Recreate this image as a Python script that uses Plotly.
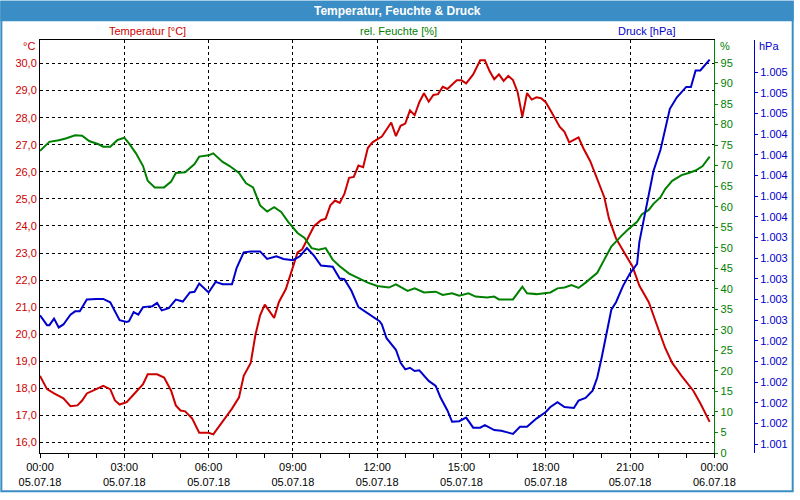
import pandas as pd
import plotly.graph_objects as go

day = pd.Timestamp("2018-07-05")

# minutes after midnight + readings, picked off the chart
temp_min = [0, 15, 30, 50, 65, 80, 90, 100, 120, 135, 150, 160, 170, 185, 200, 220, 230, 250,
            265, 280, 290, 300, 310, 325, 340, 360, 370, 390, 410, 425, 435, 450, 460, 470,
            480, 500, 510, 525, 540, 550, 560, 570, 585, 600, 610, 620, 630, 640, 650, 660,
            670, 680, 690, 700, 710, 720, 730, 750, 760, 770, 780, 790, 800, 810, 820, 830,
            840, 850, 860, 870, 890, 900, 910, 925, 940, 950, 960, 970, 980, 990, 1000, 1010,
            1020, 1030, 1040, 1050, 1060, 1070, 1080, 1090, 1100, 1110, 1120, 1130, 1150,
            1160, 1175, 1190, 1205, 1215, 1230, 1250, 1265, 1280, 1300, 1315, 1325, 1335,
            1350, 1370, 1395, 1410, 1430]
temp_c = [18.46, 17.97, 17.81, 17.63, 17.34, 17.37, 17.55, 17.81, 17.97, 18.09, 17.97, 17.55,
          17.40, 17.49, 17.77, 18.15, 18.52, 18.52, 18.40, 17.91, 17.37, 17.18, 17.15, 16.88,
          16.36, 16.36, 16.30, 16.76, 17.25, 17.67, 18.46, 18.94, 19.97, 20.70, 21.09, 20.60,
          21.18, 21.67, 22.51, 23.02, 23.14, 23.48, 23.99, 24.21, 24.27, 24.76, 24.94, 24.85,
          25.18, 25.78, 25.81, 26.23, 26.17, 26.88, 27.09, 27.20, 27.30, 27.82, 27.32, 27.70,
          27.78, 28.27, 28.09, 28.57, 28.90, 28.59, 28.84, 28.87, 29.14, 29.06, 29.38, 29.38,
          29.27, 29.60, 30.12, 30.12, 29.72, 29.42, 29.60, 29.36, 29.54, 29.39, 28.94, 28.03,
          28.91, 28.67, 28.75, 28.72, 28.57, 28.27, 27.97, 27.66, 27.48, 27.09, 27.27, 26.88,
          26.39, 25.72, 25.06, 24.27, 23.54, 22.94, 22.51, 21.79, 21.18, 20.45, 19.97, 19.49,
          18.94, 18.46, 17.91, 17.45, 16.76]

hum_min = [0, 20, 40, 55, 75, 90, 105, 125, 135, 150, 165, 180, 190, 205, 220, 230, 245, 265,
           280, 290, 310, 330, 340, 360, 370, 390, 405, 425, 440, 455, 470, 485, 500, 515, 530,
           550, 565, 580, 595, 610, 625, 640, 660, 675, 700, 720, 745, 760, 785, 800, 820, 845,
           860, 880, 895, 915, 930, 955, 970, 980, 1000, 1010, 1030, 1040, 1060, 1080, 1090,
           1105, 1120, 1135, 1150, 1165, 1190, 1205, 1220, 1240, 1255, 1275, 1285, 1300, 1310,
           1325, 1335, 1350, 1370, 1385, 1400, 1415, 1430]
hum_pct = [73.6, 75.8, 76.2, 76.6, 77.4, 77.3, 76.0, 75.2, 74.6, 74.6, 76.2, 76.8, 75.4, 73.0,
           69.9, 66.3, 64.7, 64.7, 66.1, 68.2, 68.4, 70.4, 72.2, 72.5, 73.0, 70.9, 69.9, 68.2,
           65.7, 64.7, 60.3, 58.8, 59.9, 58.7, 56.3, 53.6, 52.4, 49.9, 49.5, 49.9, 47.1, 45.5,
           43.7, 42.9, 41.5, 40.7, 40.3, 41.1, 39.5, 40.1, 39.1, 39.3, 38.5, 38.9, 38.3, 38.9,
           38.1, 37.9, 38.1, 37.4, 37.5, 37.4, 40.5, 38.9, 38.7, 39.0, 39.1, 40.1, 40.3, 40.9,
           40.2, 41.5, 43.9, 47.1, 50.3, 52.7, 54.4, 56.3, 58.1, 59.2, 60.7, 62.3, 64.3, 66.3,
           67.7, 68.2, 68.8, 69.9, 72.2]

press_min = [0, 15, 20, 30, 40, 50, 65, 75, 85, 100, 120, 135, 150, 160, 170, 185, 190, 200,
             210, 220, 240, 250, 260, 275, 290, 305, 320, 330, 340, 360, 375, 390, 410, 420,
             435, 450, 470, 485, 505, 520, 540, 555, 570, 585, 600, 625, 640, 650, 665, 680,
             695, 710, 725, 730, 740, 760, 770, 780, 790, 800, 810, 830, 845, 855, 870, 880,
             895, 910, 925, 940, 950, 970, 985, 1000, 1010, 1025, 1040, 1060, 1080, 1090, 1105,
             1120, 1140, 1150, 1165, 1180, 1190, 1200, 1210, 1220, 1230, 1245, 1260, 1275,
             1280, 1290, 1300, 1310, 1325, 1335, 1345, 1360, 1380, 1390, 1400, 1410, 1430]
press_hpa = [1002.647, 1002.551, 1002.551, 1002.615, 1002.529, 1002.558, 1002.653, 1002.685,
             1002.685, 1002.799, 1002.805, 1002.805, 1002.773, 1002.678, 1002.599, 1002.583,
             1002.589, 1002.678, 1002.653, 1002.726, 1002.735, 1002.767, 1002.694, 1002.716,
             1002.799, 1002.780, 1002.868, 1002.875, 1002.954, 1002.868, 1002.970, 1002.948,
             1002.948, 1003.106, 1003.256, 1003.265, 1003.265, 1003.192, 1003.218, 1003.192,
             1003.180, 1003.218, 1003.297, 1003.224, 1003.129, 1003.116, 1003.002, 1002.996,
             1002.884, 1002.726, 1002.678, 1002.630, 1002.589, 1002.558, 1002.425, 1002.313,
             1002.187, 1002.123, 1002.139, 1002.107, 1002.114, 1002.012, 1001.964, 1001.854,
             1001.726, 1001.616, 1001.622, 1001.657, 1001.559, 1001.559, 1001.584, 1001.536,
             1001.530, 1001.511, 1001.498, 1001.568, 1001.568, 1001.647, 1001.711, 1001.759,
             1001.806, 1001.759, 1001.749, 1001.821, 1001.847, 1001.917, 1002.044, 1002.250,
             1002.488, 1002.701, 1002.773, 1002.932, 1003.053, 1003.144, 1003.360, 1003.598,
             1003.820, 1004.043, 1004.248, 1004.455, 1004.645, 1004.756, 1004.857, 1004.857,
             1005.016, 1005.016, 1005.121]

temp_ticks = [16, 17, 18, 19, 20, 21, 22, 23, 24, 25, 26, 27, 28, 29, 30]
hum_ticks = [0, 5, 10, 15, 20, 25, 30, 35, 40, 45, 50, 55, 60, 65, 70, 75, 80, 85, 90, 95]
press_ticks = [1001.4, 1001.6, 1001.8, 1002.0, 1002.2, 1002.4, 1002.6, 1002.8, 1003.0, 1003.2,
               1003.4, 1003.6, 1003.8, 1004.0, 1004.2, 1004.4, 1004.6, 1004.8, 1005.0]

RED, GREEN, BLUE = "#cc0000", "#008000", "#0000cc"
FRAME = "#3b8dc5"
FONT = "Liberation Sans"

W, H = 800, 500
L, R, T, B = 40, 38, 40, 40


def ts(mins):
    return [day + pd.Timedelta(minutes=m) for m in mins]


def px(x):  # pixel -> paper x
    return (x - L) / (W - L - R)


def py(y):  # pixel -> paper y
    return (H - B - y) / (H - T - B)


fig = go.Figure()
fig.add_trace(go.Scatter(x=ts(temp_min), y=temp_c, mode="lines",
                         line=dict(color=RED, width=2), yaxis="y"))
fig.add_trace(go.Scatter(x=ts(hum_min), y=hum_pct, mode="lines",
                         line=dict(color=GREEN, width=2), yaxis="y2"))
fig.add_trace(go.Scatter(x=ts(press_min), y=press_hpa, mode="lines",
                         line=dict(color=BLUE, width=2), yaxis="y3"))

grid = dict(showgrid=True, gridcolor="black", gridwidth=1, griddash="3px,3px")

fig.update_layout(
    width=W, height=H,
    margin=dict(l=L, r=R, t=T, b=B),
    paper_bgcolor="white", plot_bgcolor="white",
    showlegend=False,
    separators=",.",
    font=dict(family=FONT, size=11, color="black"),
    xaxis=dict(
        type="date", domain=[0, 680 / (W - L - R)],
        range=[day, day + pd.Timedelta(days=1)],
        dtick=3 * 3600 * 1000, tickformat="%H:%M<br>%d.%m.%y",
        ticks="outside", ticklen=4, tickcolor="black",
        minor=dict(dtick=3600 * 1000, ticks="outside", ticklen=4, tickcolor="black", showgrid=False),
        showline=True, linecolor="black", linewidth=1, mirror=True,
        zeroline=False, tickfont=dict(size=11, color="black"), **grid,
    ),
    yaxis=dict(
        range=[15.61, 30.87], tickmode="array", tickvals=temp_ticks, tickformat=".1f",
        ticks="", showline=True, linecolor="black", linewidth=1, zeroline=False,
        tickfont=dict(size=11, color=RED), **grid,
    ),
    yaxis2=dict(
        overlaying="y", side="right", anchor="x", range=[0, 100.6],
        tickmode="array", tickvals=hum_ticks,
        ticks="outside", ticklen=3, tickcolor=GREEN,
        showline=True, linecolor=GREEN, linewidth=1, showgrid=False, zeroline=False,
        tickfont=dict(size=11, color=GREEN),
    ),
    yaxis3=dict(
        overlaying="y", side="right", anchor="free", position=px(760),
        range=[1001.314, 1005.311], tickmode="array", tickvals=press_ticks, tickformat=",.0f",
        ticks="outside", ticklen=3, tickcolor=BLUE, ticklabeloverflow="allow",
        showline=True, linecolor=BLUE, linewidth=1, showgrid=False, zeroline=False,
        tickfont=dict(size=11, color=BLUE),
    ),
)

# window frame and title bar
fig.add_shape(type="rect", xref="paper", yref="paper", x0=px(0), x1=px(800), y0=py(21), y1=py(0),
              fillcolor=FRAME, line=dict(width=0), layer="above")
fig.add_shape(type="rect", xref="paper", yref="paper", x0=px(1), x1=px(799), y0=py(499), y1=py(1),
              line=dict(color=FRAME, width=2), layer="above")


def note(text, x, y, color, anchor="center", size=11, bold=False):
    if bold:
        text = "<b>" + text + "</b>"
    fig.add_annotation(text=text, xref="paper", yref="paper", x=px(x), y=py(y),
                       xanchor=anchor, yanchor="middle", showarrow=False,
                       font=dict(family=FONT, size=size, color=color))


note("Temperatur, Feuchte &amp; Druck", 400, 10, "white", size=12, bold=True)
note("Temperatur [°C]", 148, 31, RED)
note("rel. Feuchte [%]", 402, 31, GREEN)
note("Druck [hPa]", 652, 31, BLUE)
note("°C", 37, 46, RED, anchor="right")
note("%", 724, 46, GREEN, anchor="left")
note("hPa", 763, 46, BLUE, anchor="left")

# the page body has a default 8px margin that pushes the chart out of the window
fig.write_html("out.html", post_script="document.body.style.margin='0px';",
               config={"displayModeBar": False})
